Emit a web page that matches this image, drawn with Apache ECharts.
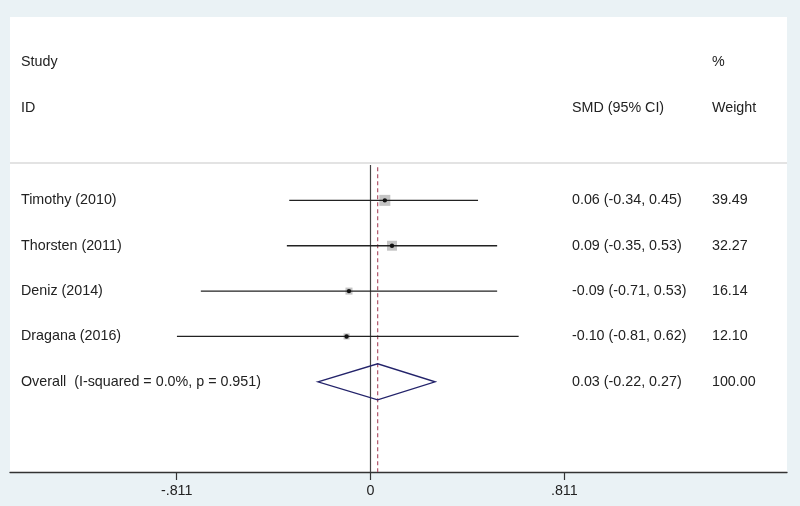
<!DOCTYPE html>
<html><head><meta charset="utf-8">
<script src="https://cdn.jsdelivr.net/npm/echarts@6/dist/echarts.min.js"></script>
<style>html,body{margin:0;padding:0;background:#eaf2f5}#c{width:800px;height:506px}</style>
</head><body><div id="c"></div>
<script>
const studies = ['Timothy (2010)', 'Thorsten (2011)', 'Deniz (2014)', 'Dragana (2016)'];
const es = [0.06, 0.09, -0.09, -0.10];
const lo = [-0.34, -0.35, -0.71, -0.81];
const hi = [0.45, 0.53, 0.53, 0.62];
const weights = [39.49, 32.27, 16.14, 12.10];
const overallLabel = 'Overall  (I-squared = 0.0%, p = 0.951)';
const overallEs = 0.03, overallLo = -0.22, overallHi = 0.27, overallWeight = 100.00;
const tickValues = [-0.811, 0, 0.811];
const tickLabels = ['-.811', '0', '.811'];

const XMIN = -1.5086, XMAX = 1.743;
const COL_ID = -1.4626, COL_CI = 0.8432, COL_W = 1.429;
const ROW0 = 3.03, ROW_STEP = 0.997;
const FONT = '"Liberation Sans", Arial, sans-serif';
const TXT = '#222';

function fmtCI(e, l, h) { return e.toFixed(2) + ' (' + l.toFixed(2) + ', ' + h.toFixed(2) + ')'; }
function rowOf(i) { return ROW0 + ROW_STEP * i; }

const textRows = [
  {x: COL_ID, r: 0, t: 'Study'},
  {x: COL_W, r: 0, t: '%'},
  {x: COL_ID, r: 1, t: 'ID'},
  {x: COL_CI, r: 1, t: 'SMD (95% CI)'},
  {x: COL_W, r: 1, t: 'Weight'}
];
studies.forEach((s, i) => {
  textRows.push({x: COL_ID, r: rowOf(i), t: s});
  textRows.push({x: COL_CI, r: rowOf(i), t: fmtCI(es[i], lo[i], hi[i])});
  textRows.push({x: COL_W, r: rowOf(i), t: weights[i].toFixed(2)});
});
const overallRow = rowOf(studies.length);
textRows.push({x: COL_ID, r: overallRow, t: overallLabel});
textRows.push({x: COL_CI, r: overallRow, t: fmtCI(overallEs, overallLo, overallHi)});
textRows.push({x: COL_W, r: overallRow, t: overallWeight.toFixed(2)});

const chart = echarts.init(document.getElementById('c'));
chart.setOption({
  backgroundColor: '#eaf2f5',
  animation: false,
  grid: {left: 10, right: 13, top: 17, bottom: 34, show: true, backgroundColor: '#ffffff', borderWidth: 0},
  xAxis: {
    type: 'value', min: XMIN, max: XMAX,
    splitLine: {show: false},
    axisLine: {show: true, onZero: false, lineStyle: {color: '#333', width: 1.3}},
    axisTick: {show: true, customValues: tickValues, length: 8, lineStyle: {color: '#333', width: 1.2}},
    axisLabel: {
      customValues: tickValues, margin: 12.5, fontSize: 14.3, color: TXT, fontFamily: FONT,
      formatter: function (v) { const i = tickValues.indexOf(v); return i >= 0 ? tickLabels[i] : String(v); }
    }
  },
  yAxis: {type: 'value', min: -1, max: 9, inverse: true, show: false},
  series: [
    {
      type: 'custom', silent: true, z: 1,
      data: [[XMIN, 2.209, XMAX]],
      renderItem: function (p, api) {
        const a = api.coord([api.value(0), api.value(1)]);
        const b = api.coord([api.value(2), api.value(1)]);
        return {type: 'line', shape: {x1: a[0], y1: a[1], x2: b[0], y2: b[1]}, style: {stroke: '#c8c8c8', lineWidth: 1.2}};
      }
    },
    {
      type: 'custom', silent: true, z: 2,
      data: [[0, 2.253, 9]],
      renderItem: function (p, api) {
        const a = api.coord([api.value(0), api.value(1)]);
        const b = api.coord([api.value(0), api.value(2)]);
        return {type: 'line', shape: {x1: a[0], y1: a[1], x2: b[0], y2: b[1]}, style: {stroke: '#444', lineWidth: 1.2}};
      }
    },
    {
      type: 'custom', silent: true, z: 2,
      data: [[overallEs, 2.3, 9]],
      renderItem: function (p, api) {
        const a = api.coord([api.value(0), api.value(1)]);
        const b = api.coord([api.value(0), api.value(2)]);
        return {type: 'line', shape: {x1: a[0], y1: a[1], x2: b[0], y2: b[1]}, style: {stroke: '#b0566a', lineWidth: 1.2, lineDash: [4, 3]}};
      }
    },
    {
      type: 'custom', silent: true, z: 3,
      data: studies.map((s, i) => [es[i], rowOf(i), lo[i], hi[i], weights[i]]),
      renderItem: function (p, api) {
        const r = api.value(1);
        const c = api.coord([api.value(0), r]);
        const a = api.coord([api.value(2), r]);
        const b = api.coord([api.value(3), r]);
        const s = 1.75 * Math.sqrt(api.value(4));
        return {type: 'group', children: [
          {type: 'rect', shape: {x: c[0] - s / 2, y: c[1] - s / 2, width: s, height: s}, style: {fill: '#c4c4c4'}},
          {type: 'line', shape: {x1: a[0], y1: a[1], x2: b[0], y2: b[1]}, style: {stroke: '#222', lineWidth: 1.3}},
          {type: 'circle', shape: {cx: c[0], cy: c[1], r: 2.2}, style: {fill: '#111'}}
        ]};
      }
    },
    {
      type: 'custom', silent: true, z: 3,
      data: [[overallEs, overallRow, overallLo, overallHi]],
      renderItem: function (p, api) {
        const r = api.value(1);
        const c = api.coord([api.value(0), r]);
        const a = api.coord([api.value(2), r]);
        const b = api.coord([api.value(3), r]);
        const h = 18;
        return {type: 'polygon', shape: {points: [[a[0], a[1]], [c[0], c[1] - h], [b[0], b[1]], [c[0], c[1] + h]]},
          style: {fill: 'none', stroke: '#23236a', lineWidth: 1.4}};
      }
    },
    {
      type: 'custom', silent: true, z: 4,
      data: textRows.map(d => [d.x, d.r]),
      renderItem: function (p, api) {
        const c = api.coord([api.value(0), api.value(1)]);
        return {type: 'text', x: c[0], y: c[1], style: {text: textRows[p.dataIndex].t, fill: TXT, font: '14.3px ' + FONT, textAlign: 'left', textVerticalAlign: 'middle'}};
      }
    }
  ]
});
</script>
</body></html>
